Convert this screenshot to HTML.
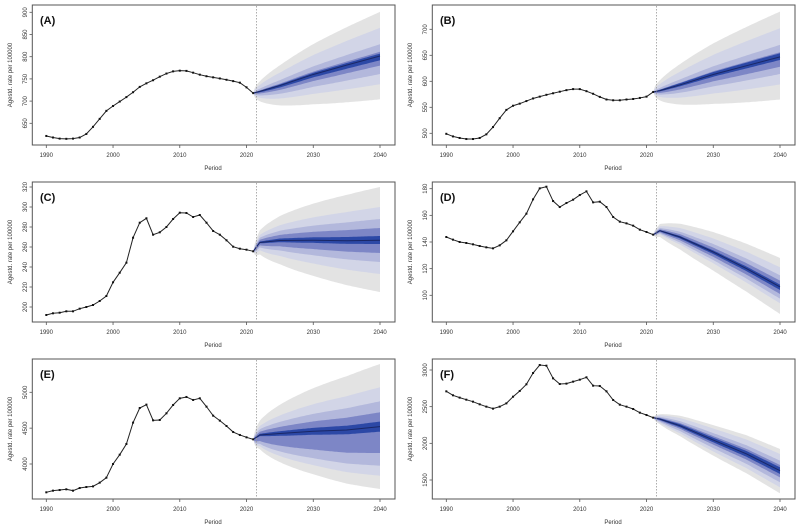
<!DOCTYPE html>
<html><head><meta charset="utf-8"><style>
body{margin:0;background:#fff;}
svg{display:block;font-family:"Liberation Sans",Arial,sans-serif;}
</style></head><body>
<svg id="chart" width="800" height="531" viewBox="0 0 800 531"></svg>
<script>
const years=[];for(let y=1990;y<=2021;y++)years.push(y);
const panelLabels=["(A)","(B)","(C)","(D)","(E)","(F)"];
const obsA=[621.5,618,615.5,615,615.5,618,626,642,660,678,689,699,709,720,732,740,747,755,762,767,768.5,768,764,759.5,756,753.5,751,748,745,741.5,731,718];
const obsB=[499,494,491,489,489,491,498,512,529,545,553,557,562,567,570.5,574,577,580,583,585,585,581,576,570,565,563.5,563.5,565,566,568,570.5,579.5];
const obsC=[192,193.7,194.3,195.7,195.7,198.3,200,202,206,211,224.7,234.3,244.3,269.3,284.3,288.7,272.3,274.7,280,288,294.3,294,290,292,284.3,276,272.3,266.7,260.3,258.3,257.3,255.7];
const obsD=[143.75,141.75,140,139.25,138.25,137,136,135.25,137.5,141.25,148,154.75,161.25,172,180.25,181.5,170.75,166.25,169.25,171.75,175.25,178,169.75,170.25,166.25,158.75,155.25,154,152.25,149.25,147.5,145.5];
const obsE=[3605,3628,3637,3647,3628,3665,3679,3688,3740,3809,4000,4130,4279,4577,4781,4828,4609,4614,4707,4823,4916,4935,4893,4916,4800,4674,4605,4530,4446,4405,4372,4344];
const obsF=[2709,2655,2623,2595,2568,2532,2500,2473,2500,2545,2636,2714,2805,2959,3068,3059,2886,2809,2814,2841,2868,2900,2786,2782,2709,2591,2527,2500,2468,2418,2386,2350];
const fcYears=[2021,2022,2025,2030,2035,2040];
const fcA=[718,722,735,760,781,801.5];
const fcB=[579.5,582,593,613,630,647];
const fcC=[255.7,264.5,266.5,266.7,266.3,266.7];
const fcD=[145.5,148.5,143.75,132.5,120,106.25];
const fcE=[4344,4405,4425,4456,4474,4521];
const fcF=[2350,2330,2241,2045,1855,1627];
// band limits at 2040, outer (grey) to inner (dark)
const upA=[901,865,828,811,807], loA=[704,738,761,780,792];
const upB=[734,702,670,656,654], loB=[565,594,614,628,641];
const upC=[320,300,288,279,271], loC=[215,233,245,254,263];
const upD=[128,121,115,111,108], loD=[86,94,97.5,101,104];
const upE=[5395,5070,4874,4721,4591], loE=[3651,3837,3977,4153,4451];
const upF=[1923,1855,1764,1705,1673], loF=[1318,1400,1468,1536,1582];
const yTicksA=[650,700,750,800,850,900];
const yTicksB=[500,550,600,650,700];
const yTicksC=[200,220,240,260,280,300,320];
const yTicksD=[100,120,140,160,180];
const yTicksE=[4000,4500,5000];
const yTicksF=[1500,2000,2500,3000];
const xTicks=[1990,2000,2010,2020,2030,2040];
const bandColors=["#e3e3e3","#d2d5e7","#b3b8dc","#7d86c6","#2c48a6"];
const NS="http://www.w3.org/2000/svg";
const svg=document.getElementById('chart');
function mk(tag,attrs,parent){const e=document.createElementNS(NS,tag);for(const k in attrs)e.setAttribute(k,attrs[k]);(parent||svg).appendChild(e);return e;}
// calibration: [value, local y px] pairs for each panel's y axis
const panels=[
 {x0:0,y0:0,obs:obsA,fc:fcA,up:upA,lo:loA,ticks:yTicksA,cal:[650,123.3,900,12.3],id:"a"},
 {x0:400,y0:0,obs:obsB,fc:fcB,up:upB,lo:loB,ticks:yTicksB,cal:[500,133.3,700,29.3],id:"b"},
 {x0:0,y0:177,obs:obsC,fc:fcC,up:upC,lo:loC,ticks:yTicksC,cal:[200,130,320,10],id:"c"},
 {x0:400,y0:177,obs:obsD,fc:fcD,up:upD,lo:loD,ticks:yTicksD,cal:[100,118.3,180,11.7],id:"d"},
 {x0:0,y0:354,obs:obsE,fc:fcE,up:upE,lo:loE,ticks:yTicksE,cal:[4000,110,5000,38.3],id:"e"},
 {x0:400,y0:354,obs:obsF,fc:fcF,up:upF,lo:loF,ticks:yTicksF,cal:[1500,126,3000,16],id:"f"}
];
function interp(xs,ys,t){for(let i=0;i<xs.length-1;i++){if(t<=xs[i+1]){const f=(t-xs[i])/(xs[i+1]-xs[i]);return ys[i]+f*(ys[i+1]-ys[i]);}}return ys[ys.length-1];}
panels.forEach((p,pi)=>{
 const g=mk('g',{});
 
 
 const X=y=>p.x0+46.3+(y-1990)*(333.7/50);
 const Y=v=>p.y0+p.cal[1]+(v-p.cal[0])*(p.cal[3]-p.cal[1])/(p.cal[2]-p.cal[0]);
 const c40=p.fc[p.fc.length-1];
 // fan bands
 for(let k=0;k<5;k++){
  let top=[],bot=[];
  for(let t=2021;t<=2040.001;t+=0.25){
   const c=interp(fcYears,p.fc,t);const s=Math.sqrt((t-2021)/19);
   top.push(X(t).toFixed(1)+","+Y(c+(p.up[k]-c40)*s).toFixed(1));
   bot.unshift(X(t).toFixed(1)+","+Y(c+(p.lo[k]-c40)*s).toFixed(1));
  }
  const b=mk('polygon',{points:top.concat(bot).join(" "),fill:bandColors[k]},g);
  
  
 }
 const fl=mk('polyline',{points:fcYears.map((t,i)=>X(t)+","+Y(p.fc[i])).join(" "),fill:"none",stroke:"#1a2766","stroke-width":1},g);
 
 
 // dotted divider
 const dl=mk('line',{x1:X(2021.5),x2:X(2021.5),y1:p.y0+6,y2:p.y0+144,stroke:"#999","stroke-width":0.8,"stroke-dasharray":"1.5,1.5"},g);
 
 
 // observed
 const ol=mk('polyline',{points:years.map((t,i)=>X(t)+","+Y(p.obs[i])).join(" "),fill:"none",stroke:"#222","stroke-width":1},g);
 
 
 years.forEach((t,i)=>{
  const m=mk('rect',{x:X(t)-1,y:Y(p.obs[i])-1,width:2,height:2,fill:"#111"},g);
  
  
 });
 // box
 const bx=mk('rect',{x:p.x0+32.3,y:p.y0+5,width:362.7,height:140,fill:"none",stroke:"#555","stroke-width":1},g);
 
 
 // x ticks
 xTicks.forEach(t=>{
  mk('line',{x1:X(t),x2:X(t),y1:p.y0+145,y2:p.y0+148,stroke:"#555","stroke-width":0.8},g);
  const tx=mk('text',{x:X(t),y:p.y0+157,"font-size":6,"text-anchor":"middle",fill:"#333"},g);
  tx.textContent=t;
  
  
 });
 // y ticks
 p.ticks.forEach(v=>{
  const yy=Y(v);
  mk('line',{x1:p.x0+29.5,x2:p.x0+32.3,y1:yy,y2:yy,stroke:"#555","stroke-width":0.8},g);
  const tx=mk('text',{x:p.x0+27,y:yy,"font-size":6,"text-anchor":"middle",fill:"#333",transform:"rotate(-90 "+(p.x0+27)+" "+yy+")"},g);
  tx.textContent=v;
  
  
 });
 const yl=mk('text',{x:p.x0+12,y:p.y0+75,"font-size":6,"text-anchor":"middle",fill:"#333",transform:"rotate(-90 "+(p.x0+12)+" "+(p.y0+75)+")"},g);
 yl.textContent="Agestd. rate per 100000";
 
 
 const xl=mk('text',{x:p.x0+213,y:p.y0+170,"font-size":6,"text-anchor":"middle",fill:"#333"},g);
 xl.textContent="Period";
 
 
 const pl=mk('text',{x:p.x0+40,y:p.y0+24,"font-size":11,"font-weight":"bold",fill:"#111"},g);
 pl.textContent=panelLabels[pi];
 
 
});
</script>
</body></html>
